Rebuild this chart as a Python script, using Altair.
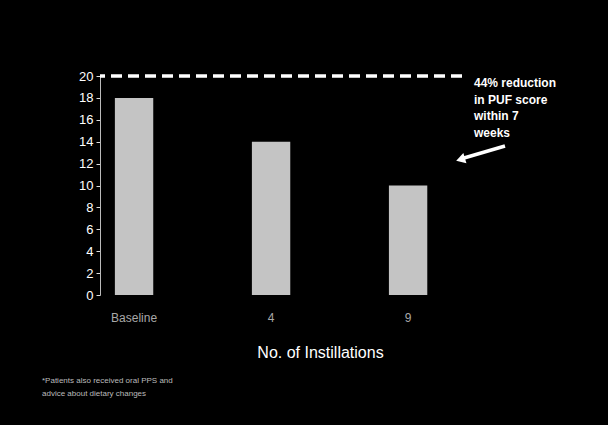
import altair as alt
import pandas as pd

# ---- data ----
categories = ["Baseline", "4", "9"]
scores = [18, 14, 10]
target_line = [20]
note_lines = ["44% reduction", "in PUF score", "within 7", "weeks"]
foot_lines = ["*Patients also received oral PPS and", "advice about dietary changes"]
y_ticks = list(range(0, 21, 2))

bars_df = pd.DataFrame({"group": categories, "score": scores})
rule_df = pd.DataFrame({"level": target_line})

x_enc = alt.X(
    "group:N",
    sort=categories,
    scale=alt.Scale(paddingInner=0.72, paddingOuter=0.181, align=0.30),
    axis=alt.Axis(
        title="No. of Instillations",
        labelAngle=0,
        labelColor="#a8a8a8",
        labelFontSize=12,
        labelPadding=17,
        ticks=False,
        domain=False,
        titleColor="white",
        titleFontSize=16,
        titleFontWeight="normal",
        titleX=220,
        titleY=49,
        titleAnchor="middle",
    ),
)
y_scale = alt.Scale(domain=[0, 20], nice=False)
y_axis = alt.Axis(
    title=None,
    values=y_ticks,
    grid=False,
    labelOverlap=False,
    labelColor="white",
    labelFontSize=13,
    labelPadding=3,
    tickColor="#dddddd",
    tickSize=4,
    domainColor="#bbbbbb",
    domainWidth=1,
)

bars = alt.Chart(bars_df).mark_bar(color="#c4c4c4").encode(
    x=x_enc,
    y=alt.Y("score:Q", scale=y_scale, axis=y_axis),
)

rule = alt.Chart(rule_df).mark_rule(
    color="white", strokeWidth=3.5, strokeDash=[11, 6], clip=False
).encode(y=alt.Y("level:Q", scale=y_scale, axis=y_axis))

note = alt.Chart(rule_df).mark_text(
    text=note_lines,
    color="white",
    fontSize=12,
    fontWeight="bold",
    align="left",
    baseline="top",
    lineHeight=16.5,
    font="Liberation Sans",
).encode(x=alt.value(374), y=alt.value(2))

arrow_line = alt.Chart(rule_df).mark_rule(color="white", strokeWidth=3.5).encode(
    x=alt.value(405), y=alt.value(70), x2=alt.value(364), y2=alt.value(82)
)
arrow_head = alt.Chart(rule_df).mark_point(
    shape="triangle", filled=True, color="white", opacity=1, size=110, angle=253
).encode(x=alt.value(362), y=alt.value(83))

foot = alt.Chart(rule_df).mark_text(
    text=foot_lines,
    color="#bbbbbb",
    fontSize=8,
    align="left",
    baseline="top",
    lineHeight=13,
    font="Liberation Sans",
).encode(x=alt.value(-58), y=alt.value(301))

chart = (
    alt.layer(bars, rule, note, arrow_line, arrow_head, foot)
    .properties(
        width=362,
        height=219,
        background="black",
        autosize=alt.AutoSizeParams(type="none"),
        padding={"left": 100, "top": 76, "right": 146, "bottom": 130},
    )
    .configure(font="Liberation Sans")
    .configure_view(stroke="transparent", strokeWidth=0)
)

chart.save("out.html", embed_options={"renderer": "svg", "actions": False})
